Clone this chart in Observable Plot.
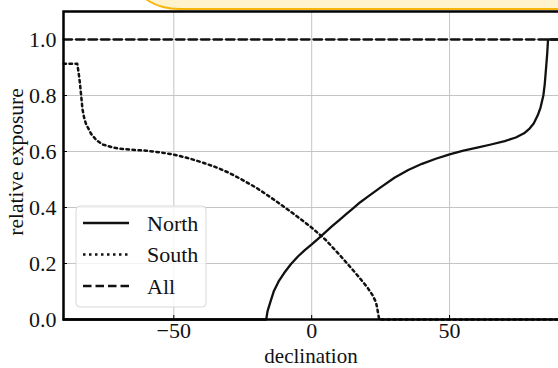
<!DOCTYPE html>
<html>
<head>
<meta charset="utf-8">
<script src="https://cdn.jsdelivr.net/npm/d3@7"></script>
<script src="https://cdn.jsdelivr.net/npm/@observablehq/plot@0.6"></script>
<style>
  html, body { margin: 0; padding: 0; background: #fff; }
  #wrap { position: relative; width: 558px; height: 368px; overflow: hidden; background: #fff; }
  #wrap svg { position: absolute; left: 0; top: 0; overflow: visible; }
  #note { position: absolute; left: 136px; top: -44px; width: 520px; height: 50px;
          border: 2.5px solid #f6b60c; border-radius: 48px / 30px; background: #fff3cd; z-index: 5; }
</style>
</head>
<body>
<div id="wrap"><div id="note"></div></div>
<script>
// ---- data ----
const northDec = [-90, -16.5, -16, -15, -13.7, -12, -10, -7.5, -5, -2.5, 0, 2.5, 5, 7.5, 10, 12.5, 15, 17.5, 20, 25, 30, 35, 40, 45, 50, 55, 60, 65, 70, 74, 77, 79, 80.5, 82, 83, 84, 84.5, 85, 85.4, 85.7, 90];
const northVal = [0, 0, 0.03, 0.062, 0.102, 0.136, 0.166, 0.198, 0.225, 0.248, 0.268, 0.29, 0.312, 0.334, 0.355, 0.376, 0.397, 0.418, 0.436, 0.472, 0.506, 0.534, 0.556, 0.574, 0.59, 0.603, 0.614, 0.625, 0.637, 0.65, 0.665, 0.682, 0.70, 0.73, 0.758, 0.80, 0.84, 0.90, 0.95, 1.0, 1.0];

const southDec = [-90, -85, -84.5, -84, -83.6, -83.1, -82.5, -81.9, -80, -78, -75.8, -72, -69.8, -65, -60, -55, -50, -45, -40, -35, -30, -25, -20, -15, -10, -5, 0, 3.3, 5, 10, 15, 17, 20, 22, 23.3, 23.8, 24.3, 24.5, 90];
const southVal = [0.913, 0.913, 0.88, 0.84, 0.80, 0.75, 0.72, 0.70, 0.663, 0.64, 0.625, 0.614, 0.61, 0.606, 0.603, 0.597, 0.589, 0.577, 0.562, 0.545, 0.524, 0.498, 0.47, 0.437, 0.402, 0.366, 0.328, 0.30, 0.285, 0.232, 0.176, 0.153, 0.117, 0.088, 0.062, 0.038, 0.01, 0, 0];

const allDec = [-90, 90];
const allVal = [1.0, 1.0];

const xTicks = [-50, 0, 50];
const yTicks = [0, 0.2, 0.4, 0.6, 0.8, 1.0];
const seriesNames = ["North", "South", "All"];

const north = northDec.map((d, i) => ({dec: d, v: northVal[i]}));
const south = southDec.map((d, i) => ({dec: d, v: southVal[i]}));
const all = allDec.map((d, i) => ({dec: d, v: allVal[i]}));

const font = "'Liberation Serif', 'DejaVu Serif', serif";
const dashes = {North: null, South: "2.5,3.5", All: "8.5,4"};
const widths = {North: 2.3, South: 2.5, All: 2.3};

const chart = Plot.plot({
  width: 558,
  height: 368,
  marginLeft: 63,
  marginRight: -1.4,
  marginTop: 11,
  marginBottom: 49,
  style: {fontFamily: font, fontSize: "22px", color: "#111", background: "transparent"},
  x: {domain: [-90, 90], label: null},
  y: {domain: [0, 1.1], label: null},
  marks: [
    Plot.gridX(xTicks, {stroke: "#c4c4c4", strokeOpacity: 1, strokeWidth: 1}),
    Plot.gridY(yTicks, {stroke: "#c4c4c4", strokeOpacity: 1, strokeWidth: 1}),
    Plot.axisX(xTicks, {tickSize: -4, tickPadding: 7, tickFormat: d => d < 0 ? "\u2212" + Math.abs(d) : String(d), fontSize: 22, label: null, stroke: "#000"}),
    Plot.axisY(yTicks, {tickSize: -4, tickPadding: 11, tickFormat: d => d.toFixed(1), fontSize: 22, label: null, stroke: "#000"}),
    Plot.line(all, {x: "dec", y: "v", stroke: "#111", strokeWidth: widths.All, strokeDasharray: dashes.All}),
    Plot.line(south, {x: "dec", y: "v", stroke: "#111", strokeWidth: widths.South, strokeDasharray: dashes.South}),
    Plot.line(north, {x: "dec", y: "v", stroke: "#111", strokeWidth: widths.North}),
    Plot.frame({stroke: "#000", strokeWidth: 2.5})
  ]
});

document.getElementById("wrap").appendChild(chart);

const svg = d3.select(chart);
// axis titles
svg.append("text").attr("x", 311).attr("y", 363).attr("text-anchor", "middle")
  .attr("font-family", font).attr("font-size", 21).attr("fill", "#111").text("declination");
svg.append("text").attr("transform", "translate(23,162) rotate(-90)").attr("text-anchor", "middle")
  .attr("font-family", font).attr("font-size", 21.5).attr("fill", "#111").text("relative exposure");

// legend
const lg = svg.append("g");
lg.append("rect").attr("x", 76).attr("y", 206).attr("width", 130).attr("height", 101)
  .attr("rx", 4).attr("fill", "rgba(255,255,255,0.8)").attr("stroke", "#d8d8d8").attr("stroke-width", 1);
seriesNames.forEach((name, i) => {
  const y = 223 + i * 31.5;
  lg.append("line").attr("x1", 83).attr("x2", 129).attr("y1", y).attr("y2", y)
    .attr("stroke", "#111").attr("stroke-width", widths[name])
    .attr("stroke-dasharray", dashes[name] || null);
  lg.append("text").attr("x", 147).attr("y", y + 7.5).attr("text-anchor", "start")
    .attr("font-family", font).attr("font-size", 22).attr("fill", "#111").text(name);
});
</script>
</body>
</html>
